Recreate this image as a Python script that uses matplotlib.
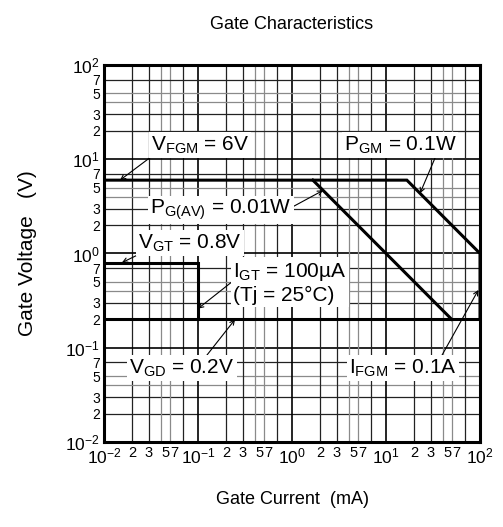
import matplotlib
matplotlib.use("Agg")
import matplotlib.pyplot as plt
import numpy as np
from matplotlib.transforms import ScaledTranslation

plt.rcParams['font.family'] = ['Liberation Sans', 'DejaVu Sans']
plt.rcParams['mathtext.fontset'] = 'custom'
plt.rcParams['mathtext.rm'] = 'Liberation Sans'
plt.rcParams['mathtext.it'] = 'Liberation Sans:italic'
plt.rcParams['mathtext.default'] = 'regular'

# ratings
vfgm = 6.0      # V
pgm = 0.1       # W
pgav = 0.01     # W
vgt = 0.8       # V
igt = 0.1       # mA
vgd = 0.2       # V
ifgm = 100.0    # mA

decades = [0.01, 0.1, 1, 10, 100]
mults = [2, 3, 4, 5, 7]
label_mults = [2, 3, 5, 7]
major_labels = ["10$^{-2}$", "10$^{-1}$", "10$^{0}$", "10$^{1}$", "10$^{2}$"]

fig = plt.figure(figsize=(5.03, 5.27), dpi=100)
ax = fig.add_axes([0.2068, 0.1613, 0.7475, 0.7154])
ax.set_xscale('log')
ax.set_yscale('log')
ax.set_xlim(0.01, 100)
ax.set_ylim(0.01, 100)

# grid
for d in decades:
    ax.axvline(d, color='black', lw=1.2, zorder=1)
    ax.axhline(d, color='black', lw=1.2, zorder=1)
    if d < 100:
        for m in mults:
            c = '#8a8a8a' if m in (4, 5) else '#222222'
            ax.axvline(d * m, color=c, lw=0.9, zorder=1)
            ax.axhline(d * m, color=c, lw=0.9, zorder=1)

# characteristic lines
lw = 2.2
ax.plot([0.01, pgm * 1000 / vfgm, ifgm, ifgm], [vfgm, vfgm, pgm * 1000 / ifgm, vgd],
        color='black', lw=lw, zorder=3, solid_joinstyle='miter')
ax.plot([pgav * 1000 / vfgm, pgav * 1000 / vgd], [vfgm, vgd], color='black', lw=lw, zorder=3)
ax.plot([0.01, ifgm], [vgd, vgd], color='black', lw=lw, zorder=3)
ax.plot([0.01, igt, igt], [vgt, vgt, vgd], color='black', lw=lw, zorder=3,
        solid_joinstyle='miter')

# ticks
ticks = []
labels = []
for i, d in enumerate(decades):
    ticks.append(d)
    labels.append(major_labels[i])
    if d < 100:
        for m in label_mults:
            ticks.append(d * m)
            labels.append(str(m))
ax.set_xticks(ticks)
ax.set_xticklabels(labels)
ax.set_yticks(ticks)
ax.set_yticklabels(labels)
ax.minorticks_off()
ax.tick_params(length=0, pad=3)
for lab in ax.get_xticklabels():
    if lab.get_text().startswith('10'):
        lab.set_fontsize(12.5)
    else:
        lab.set_fontsize(10.5)
        shift = {'5': -4, '7': -9}.get(lab.get_text(), 0)
        lab.set_transform(lab.get_transform() + ScaledTranslation(shift / 100, 0, fig.dpi_scale_trans))
for lab in ax.get_yticklabels():
    lab.set_fontsize(12.5 if lab.get_text().startswith('10') else 10)

for s in ax.spines.values():
    s.set_linewidth(2.2)
    s.set_zorder(4)

ax.set_title("Gate Characteristics", fontsize=13, pad=26)
ax.set_xlabel("Gate Current  (mA)", fontsize=13, labelpad=18)
ax.set_ylabel("Gate Voltage   (V)", fontsize=15, labelpad=20)

box = dict(facecolor='white', edgecolor='none', pad=1.5)
arrow = dict(arrowstyle='->', lw=0.8, color='black', shrinkA=0, shrinkB=0,
             mutation_scale=8)
fs = 15

notes = [
    ("V$_{FGM}$ = 6V", (0.0148, 6.0), (0.105, 14.2), (0.02, 0.0)),
    ("P$_{GM}$ = 0.1W", (23.0, 4.35), (14.1, 14.2), (0.82, 0.0)),
    ("P$_{G(AV)}$ = 0.01W", (2.14, 4.67), (0.175, 2.9), (1.0, 0.6)),
    ("V$_{GT}$ = 0.8V", (0.0155, 0.8), (0.082, 1.29), (0.02, 0.0)),
    ("I$_{GT}$ = 100µA\n(Tj = 25°C)", (0.1, 0.26), (0.95, 0.486), (0.0, 0.55)),
    ("V$_{GD}$ = 0.2V", (0.248, 0.2), (0.0676, 0.061), (0.72, 1.0)),
    ("I$_{FGM}$ = 0.1A", (96.0, 0.41), (15.2, 0.061), (0.85, 1.0)),
]
for text, xy, xyt, rel in notes:
    a = dict(arrow)
    a['relpos'] = rel
    ax.annotate(text, xy=xy, xytext=xyt, fontsize=fs, ha='center', va='center',
                multialignment='left', bbox=box, arrowprops=a, zorder=5)

fig.savefig("out.png", dpi=100)
